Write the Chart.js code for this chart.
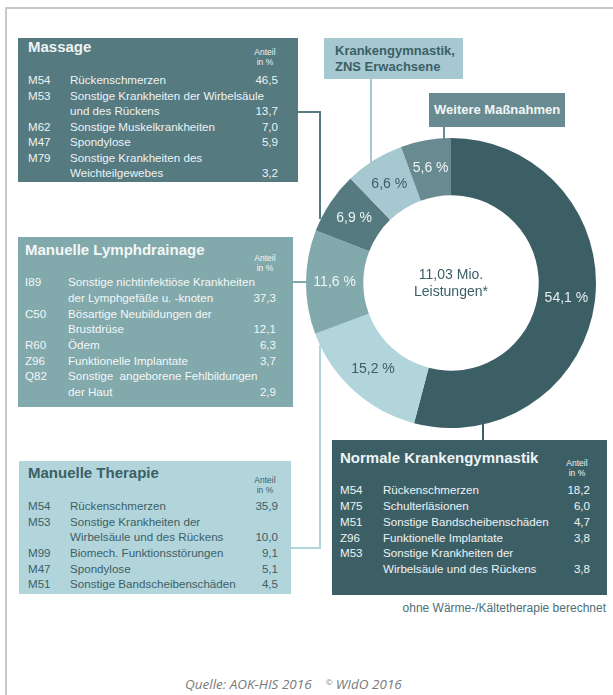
<!DOCTYPE html>
<html>
<head>
<meta charset="utf-8">
<script src="https://cdn.jsdelivr.net/npm/chart.js@4.4.1/dist/chart.umd.min.js"></script>
<style>
body{margin:0;width:613px;height:695px;overflow:hidden;background:#fff;font-family:"Liberation Sans",Arial,sans-serif;position:relative}
.abs{position:absolute;white-space:nowrap}
.title{font-weight:bold;font-size:15px;line-height:18px}
.anteil{font-size:8.5px;line-height:11px;text-align:center;width:40px}
.row{font-size:11.6px}
</style>
</head>
<body>
<div class="abs" style="left:5px;top:7px;width:608px;height:2px;background:#c8c8c8"></div>
<div class="abs" style="left:5px;top:7px;width:2px;height:688px;background:#c8c8c8"></div>

<div class="abs" style="left:306px;top:138px;width:290px;height:290px">
    <canvas id="Chart1" width="290" height="290"></canvas>
</div>
<div class="abs" style="left:351px;top:266px;width:200px;text-align:center;font-size:14px;line-height:17px;color:#3b5f66">11,03 Mio.<br>Leistungen*</div>

<div id="boxes"></div>

<div class="abs" style="left:290px;top:601px;width:316px;text-align:right;font-size:12px;line-height:14px;color:#4d6f76">ohne Wärme-/Kältetherapie berechnet</div>
<div class="abs" style="left:185px;top:674px;font-family:'Open Sans',sans-serif;font-style:italic;font-size:13.5px;line-height:16px;color:#7a7a7a">Quelle: AOK-HIS 2016&nbsp;&nbsp;&nbsp;&nbsp;<span style="font-size:8px;vertical-align:4px">©</span> WIdO 2016</div>

<script>
// Donut
let categories = ["Normale Krankengymnastik", "Manuelle Therapie", "Manuelle Lymphdrainage", "Massage", "Krankengymnastik, ZNS Erwachsene", "Weitere Maßnahmen"]
let shares = [54.1, 15.2, 11.6, 6.9, 6.6, 5.6]

// Tabellen
let massageCodes = ["M54", "M53", "M62", "M47", "M79"]
let massageNames = ["Rückenschmerzen", "Sonstige Krankheiten der Wirbelsäule\nund des Rückens", "Sonstige Muskelkrankheiten", "Spondylose", "Sonstige Krankheiten des\nWeichteilgewebes"]
let massageValues = [46.5, 13.7, 7.0, 5.9, 3.2]

let lymphCodes = ["I89", "C50", "R60", "Z96", "Q82"]
let lymphNames = ["Sonstige nichtinfektiöse Krankheiten\nder Lymphgefäße u. -knoten", "Bösartige Neubildungen der\nBrustdrüse", "Ödem", "Funktionelle Implantate", "Sonstige  angeborene Fehlbildungen\nder Haut"]
let lymphValues = [37.3, 12.1, 6.3, 3.7, 2.9]

let therapieCodes = ["M54", "M53", "M99", "M47", "M51"]
let therapieNames = ["Rückenschmerzen", "Sonstige Krankheiten der\nWirbelsäule und des Rückens", "Biomech. Funktionsstörungen", "Spondylose", "Sonstige Bandscheibenschäden"]
let therapieValues = [35.9, 10.0, 9.1, 5.1, 4.5]

let kgCodes = ["M54", "M75", "M51", "Z96", "M53"]
let kgNames = ["Rückenschmerzen", "Schulterläsionen", "Sonstige Bandscheibenschäden", "Funktionelle Implantate", "Sonstige Krankheiten der\nWirbelsäule und des Rückens"]
let kgValues = [18.2, 6.0, 4.7, 3.8, 3.8]

let sliceColors = ["#3c5f66", "#b2d5dc", "#82a9ab", "#557a80", "#a6c8d1", "#688b91"]
let labelColors = ["#e6eef0", "#3c5f66", "#f2f6f6", "#eef3f3", "#3c5f66", "#eef3f3"]

const fmt = v => v.toFixed(1).replace(".", ",")

const boxesEl = document.getElementById("boxes")
function add(html, style, cls){
    let d = document.createElement("div")
    d.className = "abs " + (cls || "")
    d.style.cssText = style
    d.innerHTML = html
    boxesEl.appendChild(d)
    return d
}

function fillBox(b, codes, names, values){
    add("", `left:${b.x}px;top:${b.y}px;width:${b.w}px;height:${b.h}px;background:${b.bg}`)
    add(b.title, `left:${b.tx}px;top:${b.ty - 9}px;color:${b.fg}`, "title")
    add("Anteil", `left:${b.ax - 20}px;top:${b.ay - 5.5}px;color:${b.fg}`, "anteil")
    add("in %", `left:${b.ax - 20}px;top:${b.ay + 5}px;color:${b.fg}`, "anteil")
    let line = 0
    codes.forEach((code, i) => {
        let parts = names[i].split("\n")
        let y = b.ry + line * b.lh - b.lh / 2
        add(code, `left:${b.cx}px;top:${y}px;line-height:${b.lh}px;color:${b.fg}`, "row")
        parts.forEach((p, k) => {
            add(p.replace(/ /g, "&nbsp;"), `left:${b.dx}px;top:${y + k * b.lh}px;line-height:${b.lh}px;color:${b.fg}`, "row")
        })
        let yv = y + (parts.length - 1) * b.lh
        add(fmt(values[i]), `left:${b.vr - 40}px;width:40px;text-align:right;top:${yv}px;line-height:${b.lh}px;color:${b.fg}`, "row")
        line += parts.length
    })
}

// Verbindungslinien
function seg(x, y, w, h, c){
    add("", `left:${x}px;top:${y}px;width:${w}px;height:${h}px;background:${c}`)
}
seg(298, 111, 23, 2, sliceColors[3]); seg(319, 111, 2, 108, sliceColors[3])
seg(293, 281, 14, 2, sliceColors[2])
seg(319, 345, 2, 204, sliceColors[1]); seg(291, 547, 30, 2, sliceColors[1])
seg(370, 79, 2, 85, sliceColors[4])
seg(443, 127, 2, 13, sliceColors[5])
seg(482, 424, 2, 17, sliceColors[0])

fillBox({title:"Massage", x:18, y:38, w:280, h:144, bg:sliceColors[3], fg:"#eef3f3", tx:28, ty:47, ax:265, ay:52, ry:80, lh:15.5, cx:28, dx:70, vr:278}, massageCodes, massageNames, massageValues)
fillBox({title:"Manuelle Lymphdrainage", x:18, y:237, w:275, h:170, bg:sliceColors[2], fg:"#f4f7f7", tx:25, ty:250, ax:265, ay:258, ry:282, lh:15.7, cx:25, dx:68, vr:276}, lymphCodes, lymphNames, lymphValues)
fillBox({title:"Manuelle Therapie", x:19, y:461, w:272, h:133, bg:sliceColors[1], fg:"#3c5f66", tx:28, ty:473, ax:265, ay:480, ry:506, lh:15.6, cx:28, dx:70, vr:278}, therapieCodes, therapieNames, therapieValues)
fillBox({title:"Normale Krankengymnastik", x:332, y:440, w:275, h:155, bg:sliceColors[0], fg:"#eef3f3", tx:340, ty:458, ax:577, ay:463, ry:490, lh:15.8, cx:340, dx:383, vr:590}, kgCodes, kgNames, kgValues)

add("Krankengymnastik,<br>ZNS Erwachsene", `left:324px;top:38px;height:41px;padding-left:11px;background:${sliceColors[4]};color:#3c5f66;font-weight:bold;font-size:13px;line-height:16px;padding-top:5px;box-sizing:border-box;width:139px`)
add("Weitere Maßnahmen", `left:429px;top:93px;width:136px;height:34px;padding-left:5px;box-sizing:border-box;background:${sliceColors[5]};color:#f2f6f6;font-weight:bold;font-size:13px;line-height:34px`)

// Beschriftung der Segmente
const sliceLabels = {
    id: "sliceLabels",
    afterDatasetsDraw(chart){
        const ctx = chart.ctx
        const meta = chart.getDatasetMeta(0)
        ctx.save()
        ctx.font = '14px "Liberation Sans", Arial, sans-serif'
        ctx.textAlign = "center"
        ctx.textBaseline = "middle"
        meta.data.forEach((arc, i) => {
            const p = arc.getCenterPoint()
            ctx.fillStyle = labelColors[i]
            ctx.fillText(`${fmt(shares[i])} %`, p.x, p.y)
        })
        ctx.restore()
    }
}

new Chart(document.getElementById("Chart1"), {
    type: "doughnut",
    data: {
        labels: categories,
        datasets: [{
            data: shares,
            backgroundColor: sliceColors,
            borderWidth: 0
        }]
    },
    options: {
        responsive: false,
        animation: false,
        cutout: "60.5%",
        layout: { padding: 0 },
        plugins: {
            legend: { display: false },
            tooltip: { enabled: false }
        }
    },
    plugins: [ sliceLabels ]
})
</script>
</body>
</html>
